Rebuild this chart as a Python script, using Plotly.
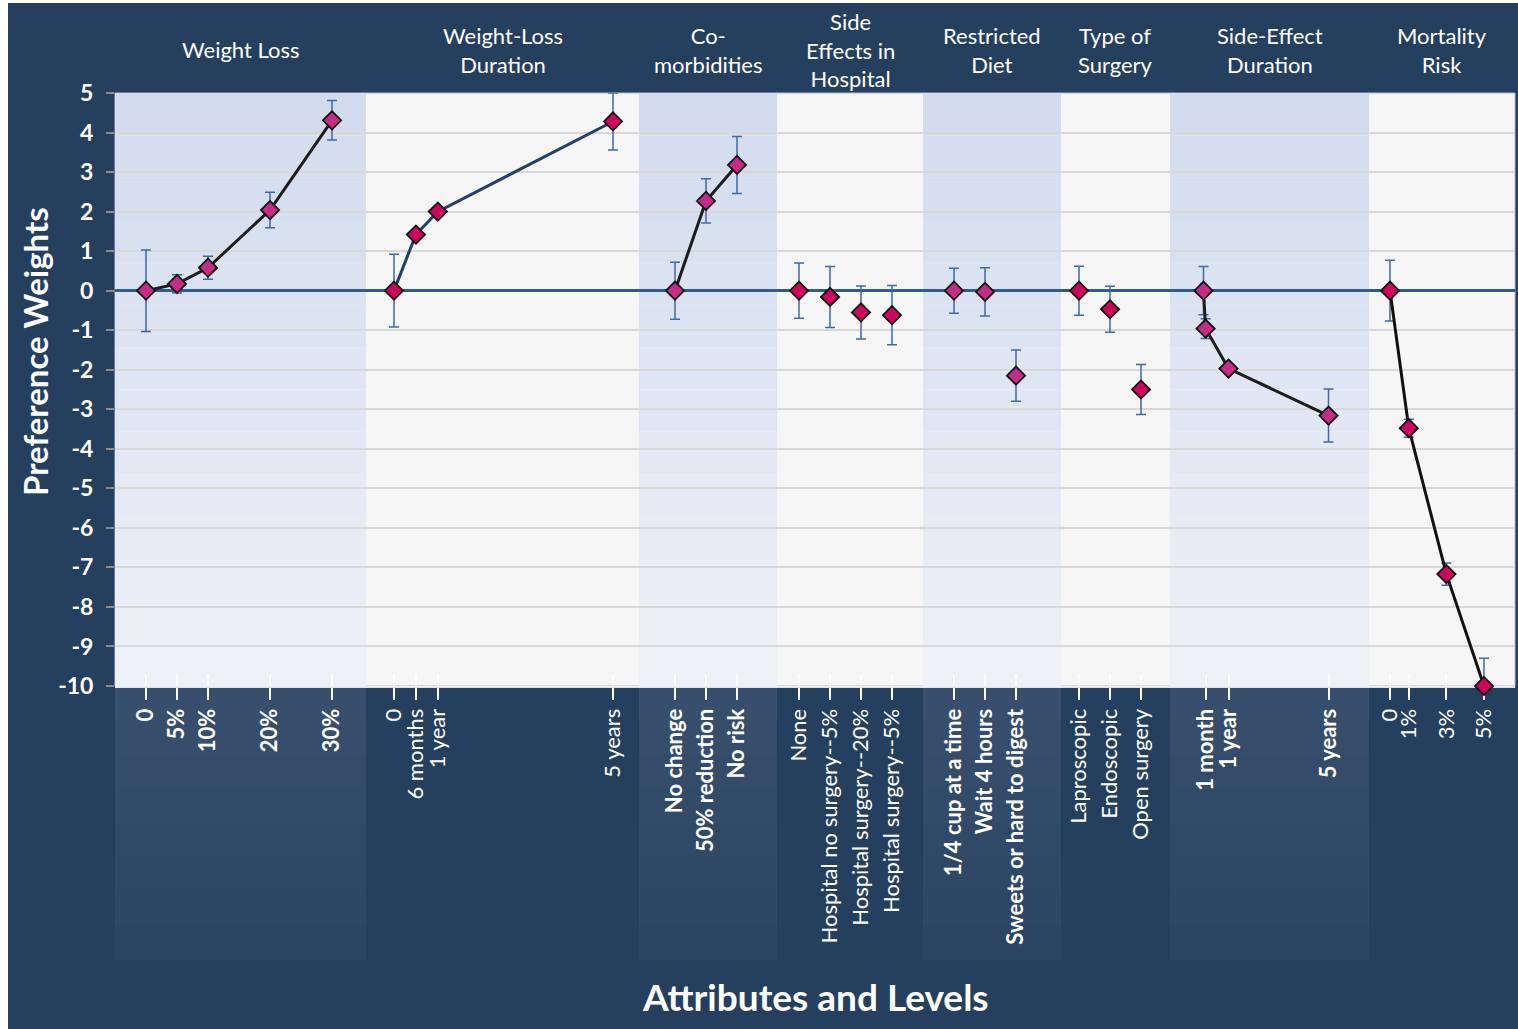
import plotly.graph_objects as go

# ---------------- data: preference weights and 95% CI half-widths ----------------
weight_loss_levels = ["0", "5%", "10%", "20%", "30%"]
weight_loss_x = [0, 5, 10, 20, 30]
weight_loss_w = [0.0, 0.17, 0.58, 2.04, 4.31]
weight_loss_ci = [1.03, 0.23, 0.29, 0.45, 0.50]

duration_levels = ["0", "6 months", "1 year", "5 years"]
duration_x = [0, 0.5, 1, 5]
duration_w = [0.0, 1.42, 2.00, 4.28]
duration_ci = [0.92, 0.12, 0.10, 0.72]

comorb_levels = ["No change", "50% reduction", "No risk"]
comorb_w = [0.0, 2.27, 3.18]
comorb_ci = [0.72, 0.56, 0.72]

side_levels = ["None", "Hospital no surgery--5%", "Hospital surgery--20%", "Hospital surgery--5%"]
side_w = [0.0, -0.16, -0.55, -0.62]
side_ci = [0.70, 0.77, 0.67, 0.75]

diet_levels = ["1/4 cup at a time", "Wait 4 hours", "Sweets or hard to digest"]
diet_w = [0.0, -0.03, -2.15]
diet_ci = [0.57, 0.61, 0.65]

surgery_levels = ["Laproscopic", "Endoscopic", "Open surgery"]
surgery_w = [0.0, -0.47, -2.50]
surgery_ci = [0.62, 0.58, 0.63]

se_duration_levels = ["", "1 month", "1 year", "5 years"]
se_duration_x = [0, 1 / 12, 1, 5]
se_duration_w = [0.0, -0.96, -1.97, -3.16]
se_duration_ci = [0.61, 0.25, 0.10, 0.67]

mortality_levels = ["0", "1%", "3%", "5%"]
mortality_x = [0, 1, 3, 5]
mortality_w = [0.0, -3.48, -7.17, -10.0]
mortality_ci = [0.77, 0.23, 0.28, 0.70]

y_ticks = list(range(-10, 6))

# ---------------- layout of the attribute groups along the x axis ----------------
NAVY = "#253f5f"
FONT = "Lato"
W, H = 1518, 1029
PL, PR, PT, PB = 115, 1515, 93, 686  # plot area in page pixels


def px(p):
    return (p - PL) / (PR - PL)


def py(p):
    return (PB - p) / (PB - PT)


groups = [
    dict(title="Weight Loss", band=(115, 366), start=146, step=6.2, shaded=True,
         levels=weight_loss_levels, x=weight_loss_x, w=weight_loss_w, ci=weight_loss_ci,
         line="#1c1c1c"),
    dict(title="Weight-Loss<br>Duration", band=(366, 639), start=394, step=43.8, shaded=False,
         levels=duration_levels, x=duration_x, w=duration_w, ci=duration_ci,
         line="#22406b"),
    dict(title="Co-<br>morbidities", band=(639, 777), start=675, step=31, shaded=True,
         levels=comorb_levels, x=list(range(len(comorb_levels))), w=comorb_w, ci=comorb_ci,
         line="#1c1c1c"),
    dict(title="Side<br>Effects in<br>Hospital", band=(777, 923), start=799, step=31, shaded=False,
         levels=side_levels, x=list(range(len(side_levels))), w=side_w, ci=side_ci,
         line=None),
    dict(title="Restricted<br>Diet", band=(923, 1061), start=954, step=31, shaded=True,
         levels=diet_levels, x=list(range(len(diet_levels))), w=diet_w, ci=diet_ci,
         line=None),
    dict(title="Type of<br>Surgery", band=(1061, 1170), start=1079, step=31, shaded=False,
         levels=surgery_levels, x=list(range(len(surgery_levels))), w=surgery_w, ci=surgery_ci,
         line=None),
    dict(title="Side-Effect<br>Duration", band=(1170, 1369), start=1203.5, step=25, shaded=True,
         levels=se_duration_levels, x=se_duration_x, w=se_duration_w, ci=se_duration_ci,
         line="#1c1c1c"),
    dict(title="Mortality<br>Risk", band=(1369, 1515), start=1390, step=18.8, shaded=False,
         levels=mortality_levels, x=mortality_x, w=mortality_w, ci=mortality_ci,
         line="#111111"),
]

fig = go.Figure()

tickvals, ticktext = [], []
for g in groups:
    xs = [g["start"] + g["step"] * v for v in g["x"]]
    for xv, lab in zip(xs, g["levels"]):
        if lab:
            tickvals.append(xv)
            ticktext.append(f"<b>{lab}</b>" if g["shaded"] else lab)
    marker_fill = "#c42c86" if g["shaded"] else "#d0045c"
    fig.add_trace(go.Scatter(
        x=xs, y=g["w"],
        mode="lines+markers" if g["line"] else "markers",
        line=dict(color=g["line"] or "black", width=3),
        marker=dict(symbol="diamond", size=14, color=marker_fill,
                    line=dict(color="#111111", width=1.8)),
        error_y=dict(type="data", array=g["ci"], visible=True,
                     color="#3d6aa5", thickness=1.5, width=5),
        cliponaxis=False, hoverinfo="x+y",
    ))

# invisible trace that carries the inner half of the cross-shaped x ticks
fig.add_trace(go.Scatter(x=[PL, PR], y=[0, 0], xaxis="x2", mode="markers",
                         marker=dict(opacity=0), hoverinfo="skip"))

shapes = []
# dark backdrop
shapes.append(dict(type="rect", xref="paper", yref="paper", layer="below",
                   x0=px(8), x1=px(W + 5), y0=py(H + 5), y1=py(3),
                   fillcolor=NAVY, line=dict(width=0)))
# plot area
shapes.append(dict(type="rect", xref="paper", yref="paper", layer="below",
                   x0=0, x1=1, y0=0, y1=1, fillcolor="#f6f6f6",
                   line=dict(color="#b8bcc4", width=1)))

top_c = (0xd2, 0xdc, 0xee)
bot_c = (0xee, 0xf0, 0xf6)
n_strips = 14
for g in groups:
    x0, x1 = g["band"]
    if g["shaded"]:
        for i in range(n_strips):
            t = i / (n_strips - 1)
            c = tuple(round(top_c[k] + (bot_c[k] - top_c[k]) * t) for k in range(3))
            shapes.append(dict(type="rect", xref="x", yref="paper", layer="below",
                               x0=x0, x1=x1,
                               y0=1 - (i + 1) / n_strips, y1=1 - i / n_strips,
                               fillcolor="rgb(%d,%d,%d)" % c, line=dict(width=0)))
        # band continues below the axis as a lighter column
        n_low = 8
        y_bot = py(960)
        for i in range(n_low):
            t = i / (n_low - 1)
            a = 0.085 - 0.05 * t
            shapes.append(dict(type="rect", xref="x", yref="paper", layer="below",
                               x0=x0, x1=x1,
                               y0=y_bot * (i + 1) / n_low, y1=y_bot * i / n_low,
                               fillcolor=f"rgba(255,255,255,{a:.3f})", line=dict(width=0)))

fig.update_layout(shapes=shapes)

annotations = []
for g in groups:
    x0, x1 = g["band"]
    annotations.append(dict(x=(x0 + x1) / 2, xref="x", y=py(50), yref="paper",
                            text=g["title"], showarrow=False, xanchor="center", yanchor="middle",
                            font=dict(family=FONT, size=22, color="white")))
annotations.append(dict(x=px(35), xref="paper", y=py(352), yref="paper",
                        text="<b>Preference Weights</b>", textangle=-90, showarrow=False,
                        xanchor="center", yanchor="middle",
                        font=dict(family=FONT, size=33, color="white")))
annotations.append(dict(x=0.5, xref="paper", y=py(996), yref="paper",
                        text="<b>Attributes and Levels</b>", showarrow=False,
                        xanchor="center", yanchor="middle",
                        font=dict(family=FONT, size=37, color="white")))

fig.update_layout(
    annotations=annotations,
    width=W, height=H, autosize=False,
    margin=dict(l=PL, r=W - PR, t=PT, b=H - PB, pad=0),
    paper_bgcolor="white", plot_bgcolor="#f6f6f6",
    showlegend=False,
    font=dict(family=FONT, color="white"),
    xaxis=dict(range=[PL, PR], tickmode="array", tickvals=tickvals, ticktext=ticktext,
               tickangle=-90, ticks="outside", ticklen=12, tickwidth=2, tickcolor="white",
               tickfont=dict(family=FONT, size=22, color="white"),
               showgrid=False, zeroline=False, showline=True,
               linecolor="rgba(255,255,255,0.85)", linewidth=2, fixedrange=True,
               layer="below traces"),
    xaxis2=dict(range=[PL, PR], overlaying="x", anchor="y", side="bottom",
                tickmode="array", tickvals=tickvals, showticklabels=False,
                ticks="inside", ticklen=12, tickwidth=2, tickcolor="white",
                showgrid=False, zeroline=False, showline=False, layer="below traces"),
    yaxis=dict(range=[-10, 5], tickmode="array", tickvals=y_ticks,
               ticktext=[f"<b>{v}</b>" for v in y_ticks],
               ticks="outside", ticklen=8, tickwidth=1.5, tickcolor="#8d8d8d",
               tickfont=dict(family=FONT, size=23, color="white"), ticklabelstandoff=8,
               showgrid=True, gridcolor="#d8d8d8", gridwidth=1.5,
               zeroline=True, zerolinecolor="#2f5b8e", zerolinewidth=3,
               showline=False, fixedrange=True),
)

fig.write_html("out.html")
